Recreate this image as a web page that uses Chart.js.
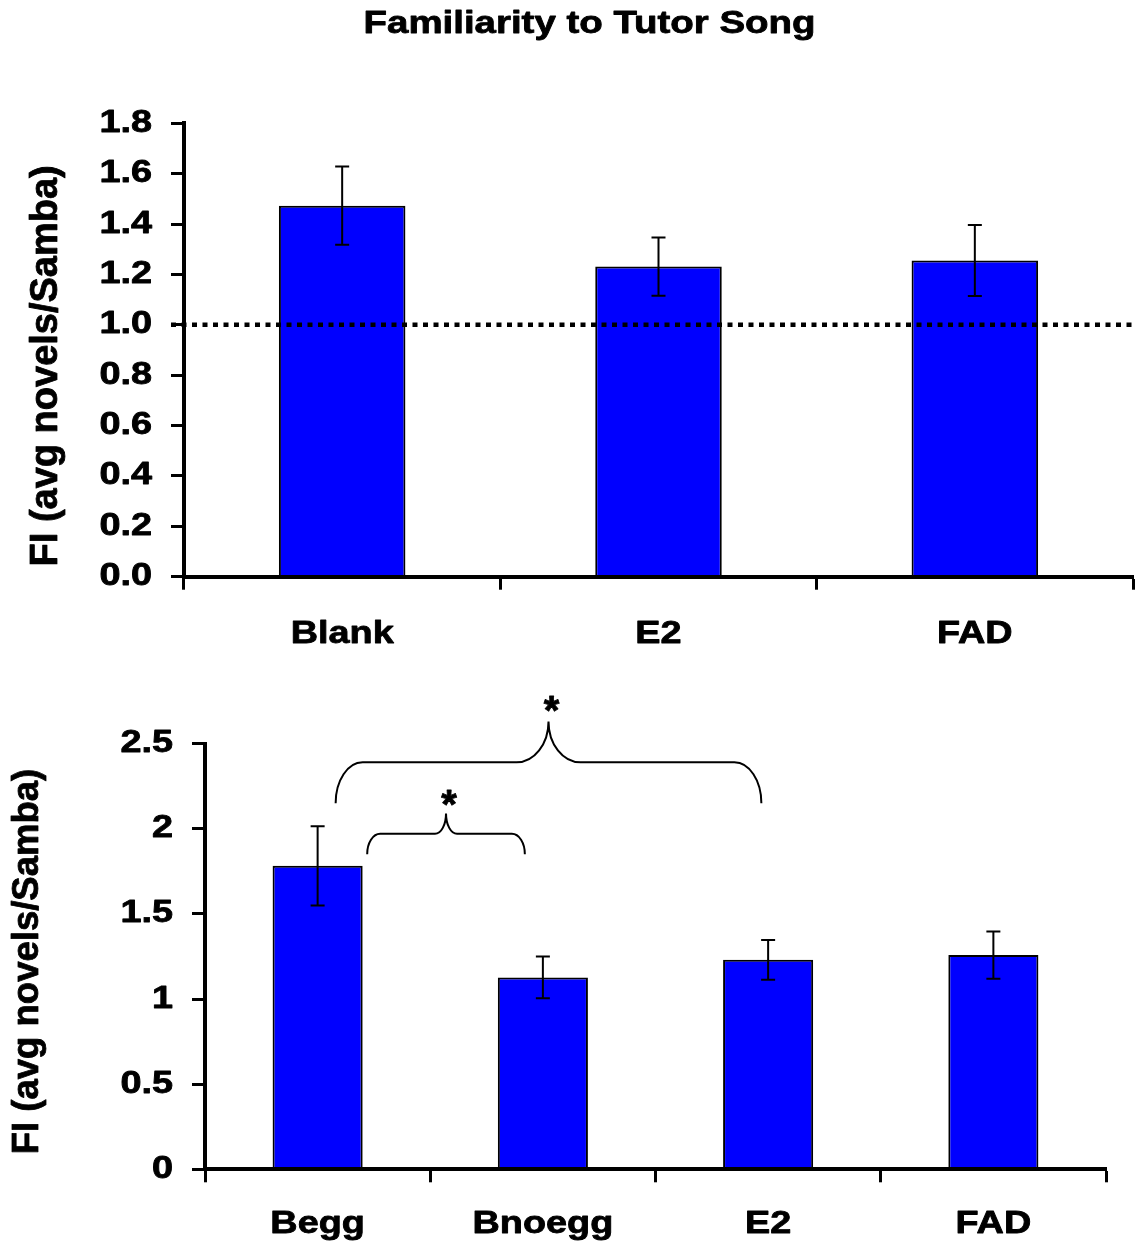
<!DOCTYPE html>
<html><head><meta charset="utf-8">
<script src="https://cdn.jsdelivr.net/npm/chart.js@4.4.0/dist/chart.umd.min.js"></script>
<style>
html,body{margin:0;padding:0;background:#fff;overflow:hidden;width:1135px;height:1243px;}
#w1{position:absolute;left:0;top:0;width:1179px;height:650px;}
#w2{position:absolute;left:0;top:650px;width:1135px;height:593px;}
canvas{display:block;}
</style></head><body>
<div id="w1"><canvas id="c1" width="1179" height="650"></canvas></div>
<div id="w2"><canvas id="c2" width="1135" height="593"></canvas></div>
<script>
// ---------- data ----------
const chartTitle = 'Familiarity to Tutor Song';
const yTitle = 'FI (avg novels/Samba)';

const topCategories = ['Blank', 'E2', 'FAD'];
const topValues = [1.473, 1.231, 1.255];
const topErrors = [0.155, 0.116, 0.141];
const topTickLabels = ['0.0','0.2','0.4','0.6','0.8','1.0','1.2','1.4','1.6','1.8'];
const referenceLine = 1.0;

const bottomCategories = ['Begg', 'Bnoegg', 'E2', 'FAD'];
const bottomValues = [1.782, 1.127, 1.230, 1.258];
const bottomErrors = [0.233, 0.122, 0.117, 0.139];
const bottomTickLabels = ['0','0.5','1','1.5','2','2.5'];

// significance braces (x in category index units, y in data units)
const braceFrom  = [0.08, 0.22];
const braceTo    = [1.97, 0.92];
const braceEnds  = [2.15, 1.85];
const braceBars  = [2.39, 1.97];
const bracePeaks = [2.63, 2.09];
const braceMarks = [2.75, 2.20];
const braceLabels = ['*', '*'];

// ---------- styles ----------
const BLUE = '#0000FF';
const FONT = 'Liberation Sans';
const STRETCH = 1.22;   // horizontal text stretch seen in the reference
const tickFont = {family: FONT, weight: 'bold', size: 31, lineHeight: 1.2};
const catFont = {family: FONT, weight: 'bold', size: 31, lineHeight: 1.2};
const braceRadii = [{end: 27, mid: 32}, {end: 13, mid: 11}];

// horizontally widened, slightly heavier text (rotated text is not widened)
function widenText(canvas) {
  const ctx = canvas.getContext('2d');
  ctx.fillText = function (text, x, y, maxWidth) {
    const fill = CanvasRenderingContext2D.prototype.fillText;
    const stroke = CanvasRenderingContext2D.prototype.strokeText;
    const m = this.getTransform();
    const rotated = Math.abs(m.b) > 1e-6 || Math.abs(m.c) > 1e-6;
    this.save();
    this.translate(x, y);
    if (!rotated && !this.__plain) this.scale(STRETCH, 1);
    fill.call(this, text, 0, 0);
    this.lineWidth = 0.8;
    this.lineJoin = 'round';
    this.setLineDash([]);
    this.strokeStyle = this.fillStyle;
    stroke.call(this, text, 0, 0);
    this.restore();
  };
}

function errorBars(values, errors) {
  return {
    id: 'errorBars',
    afterDatasetsDraw(chart) {
      const ctx = chart.ctx, y = chart.scales.y, meta = chart.getDatasetMeta(0);
      ctx.save();
      ctx.strokeStyle = '#000';
      ctx.lineWidth = 2;
      meta.data.forEach((bar, i) => {
        const x = bar.x;
        const t = y.getPixelForValue(values[i] + errors[i]);
        const b = y.getPixelForValue(values[i] - errors[i]);
        ctx.beginPath();
        ctx.moveTo(x, t); ctx.lineTo(x, b);
        ctx.moveTo(x - 7, t); ctx.lineTo(x + 7, t);
        ctx.moveTo(x - 7, b); ctx.lineTo(x + 7, b);
        ctx.stroke();
      });
      ctx.restore();
    }
  };
}

const refLine = {
  id: 'refLine',
  afterDatasetsDraw(chart) {
    const ctx = chart.ctx, y = chart.scales.y, a = chart.chartArea;
    const py = y.getPixelForValue(referenceLine);
    ctx.save();
    ctx.strokeStyle = '#000';
    ctx.lineWidth = 4.5;
    ctx.setLineDash([5, 5.5]);
    ctx.beginPath();
    ctx.moveTo(a.left - 13, py);
    ctx.lineTo(a.right + 2, py);
    ctx.stroke();
    ctx.restore();
  }
};

const braces = {
  id: 'braces',
  afterDraw(chart) {
    const ctx = chart.ctx, xs = chart.scales.x, ys = chart.scales.y;
    const k = 0.5523;
    ctx.save();
    ctx.strokeStyle = '#000';
    ctx.lineWidth = 2;
    braceFrom.forEach((f, i) => {
      const xL = xs.getPixelForValue(f);
      const xR = xs.getPixelForValue(braceTo[i]);
      const xM = (xL + xR) / 2;
      const yE = ys.getPixelForValue(braceEnds[i]);
      const yH = ys.getPixelForValue(braceBars[i]);
      const yP = ys.getPixelForValue(bracePeaks[i]);
      const re = braceRadii[i].end, rm = braceRadii[i].mid;
      const ry = yE - yH, rmy = yH - yP;
      ctx.beginPath();
      ctx.moveTo(xL, yE);
      ctx.bezierCurveTo(xL, yE - k * ry, xL + re - k * re, yH, xL + re, yH);
      ctx.lineTo(xM - rm, yH);
      ctx.bezierCurveTo(xM - rm + k * rm, yH, xM, yP + k * rmy, xM, yP);
      ctx.bezierCurveTo(xM, yP + k * rmy, xM + rm - k * rm, yH, xM + rm, yH);
      ctx.lineTo(xR - re, yH);
      ctx.bezierCurveTo(xR - re + k * re, yH, xR, yE - k * ry, xR, yE);
      ctx.stroke();
      // significance mark
      const sy = ys.getPixelForValue(braceMarks[i]);
      ctx.fillStyle = '#000';
      ctx.font = 'bold 40px "' + FONT + '"';
      ctx.textAlign = 'center';
      ctx.textBaseline = 'alphabetic';
      ctx.__plain = true;
      ctx.fillText(braceLabels[i], xM + 3, sy + 0.58 * 40);
      ctx.__plain = false;
    });
    ctx.restore();
  }
};

function xAxis(h, pad) {
  return {
    grid: {display: true, drawOnChartArea: false, drawTicks: true, tickLength: 13, tickWidth: 3, tickColor: '#000', offset: true},
    border: {display: true, color: '#000', width: 4, z: 1},
    ticks: {color: '#000', font: catFont, padding: pad, maxRotation: 0, minRotation: 0, autoSkip: false},
    afterFit: s => { s.height = h; }
  };
}

function yAxis(max, step, labels, w, titleText, titleSize, titlePad) {
  return {
    min: 0, max: max,
    ticks: {stepSize: step, color: '#000', font: tickFont, padding: 19,
            callback: (v, i) => (labels[i] !== undefined ? labels[i] : v)},
    grid: {display: true, drawOnChartArea: false, drawTicks: true, tickLength: 13, tickWidth: 3, tickColor: '#000'},
    border: {display: true, color: '#000', width: 4, z: 1},
    title: {display: true, text: titleText, color: '#000',
            font: {family: FONT, weight: 'bold', size: titleSize, lineHeight: 1.2},
            padding: {top: titlePad, bottom: 0}},
    afterFit: s => { s.width = w; }
  };
}

function barDataset(values) {
  return {data: values, backgroundColor: BLUE, borderColor: '#000', borderWidth: 2,
          barPercentage: 0.4, categoryPercentage: 1.0};
}

const c1 = document.getElementById('c1');
const c2 = document.getElementById('c2');
widenText(c1);
widenText(c2);

new Chart(c1, {
  type: 'bar',
  data: {labels: topCategories, datasets: [barDataset(topValues)]},
  options: {
    responsive: false, animation: false, devicePixelRatio: 1,
    layout: {padding: {left: 0, right: 0, top: 0, bottom: 0}},
    plugins: {
      legend: {display: false}, tooltip: {enabled: false},
      title: {display: true, text: chartTitle, color: '#000',
              font: {family: FONT, weight: 'bold', size: 31.5, lineHeight: 1.2},
              padding: {top: 5, bottom: 80.5}}
    },
    scales: {
      x: xAxis(73.3, 26.5),
      y: yAxis(1.8, 0.2, topTickLabels, 184, yTitle + '   ', 38, 24),
      spacer: {position: 'right', display: true, grid: {display: false}, border: {display: false},
               ticks: {display: false}, afterFit: s => { s.width = 46; }}
    }
  },
  plugins: [refLine, errorBars(topValues, topErrors)]
});

new Chart(c2, {
  type: 'bar',
  data: {labels: bottomCategories, datasets: [barDataset(bottomValues)]},
  options: {
    responsive: false, animation: false, devicePixelRatio: 1,
    layout: {padding: {left: 0, right: 29, top: 93.6, bottom: 0}},
    plugins: {legend: {display: false}, tooltip: {enabled: false}, title: {display: false}},
    scales: {
      x: xAxis(73.7, 23.5),
      y: yAxis(2.5, 0.5, bottomTickLabels, 205, yTitle + ' ', 36.5, 6.5)
    }
  },
  plugins: [errorBars(bottomValues, bottomErrors), braces]
});
</script>
</body></html>
